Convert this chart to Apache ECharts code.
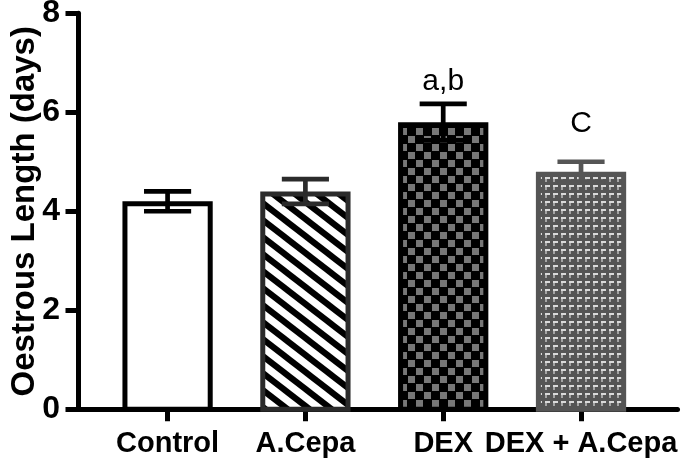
<!DOCTYPE html>
<html><head><meta charset="utf-8">
<script src="https://cdn.jsdelivr.net/npm/echarts@6/dist/echarts.min.js"></script>
<style>html,body{margin:0;padding:0;background:#fff}#c{width:685px;height:462px}</style>
</head><body><div id="c"></div>
<script>
// ---- data ----
const categories = ['Control', 'A.Cepa', 'DEX', 'DEX + A.Cepa'];
const means = [4.2, 4.4, 5.8, 4.8];
const errors = [0.2, 0.25, 0.37, 0.2];
const annotations = ['', '', 'a,b', 'C'];
const annotationY = [0, 0, 6.62, 5.76];
const yTickValues = [0, 2, 4, 6, 8];
const yTitle = 'Oestrous Length (days)';

const FONT = '"Liberation Sans", Arial, Helvetica, sans-serif';

// ---- patterns ----
function makeCanvas(w, h, draw) {
  const c = document.createElement('canvas');
  c.width = w; c.height = h;
  draw(c.getContext('2d'), w, h);
  return c;
}
const stripes = makeCanvas(22, 17, (g, w, h) => {
  g.fillStyle = '#fff'; g.fillRect(0, 0, w, h);
  g.strokeStyle = '#000'; g.lineWidth = 6.2;
  for (let k = -2; k <= 2; k++) {
    g.beginPath();
    g.moveTo(k * w - w, -h);
    g.lineTo(k * w + 2 * w, 2 * h);
    g.stroke();
  }
});
const checker = makeCanvas(16, 16, (g, w, h) => {
  g.fillStyle = '#000'; g.fillRect(0, 0, w, h);
  g.fillStyle = '#777';
  g.fillRect(0, 0, 7, 7);
  g.fillRect(8, 8, 7, 7);
});
const corners = makeCanvas(8, 8, (g, w, h) => {
  g.fillStyle = '#555'; g.fillRect(0, 0, w, h);
  g.fillStyle = '#a4a4a4'; g.fillRect(1, 2, 2, 4);
  g.fillStyle = '#dadada'; g.fillRect(1, 1, 5, 2);
});

const barStyles = [
  { fill: '#fff', stroke: '#000', err: '#000' },
  { fill: { image: stripes, repeat: 'repeat' }, stroke: '#2b2b2b', err: '#2b2b2b' },
  { fill: { image: checker, repeat: 'repeat' }, stroke: '#000', err: '#000' },
  { fill: { image: corners, repeat: 'repeat' }, stroke: '#555', err: '#555' }
];

function renderItem(params, api) {
  const i = api.value(0);
  const m = api.value(1);
  const e = api.value(2);
  const base = api.coord([i, 0]);
  const top = api.coord([i, m]);
  const hi = api.coord([i, m + e]);
  const lo = api.coord([i, m - e]);
  const unit = api.size([1, 0])[0];
  const barW = unit * 0.655;
  const capW = unit * 0.342;
  const bw = 5;
  const cx = base[0];
  const st = barStyles[i];
  const children = [
    { type: 'rect',
      shape: { x: cx - barW / 2 + bw / 2, y: top[1] + bw / 2, width: barW - bw, height: base[1] - top[1] - bw / 2 },
      style: { fill: st.fill, stroke: st.stroke, lineWidth: bw } },
    { type: 'line', shape: { x1: cx, y1: lo[1], x2: cx, y2: hi[1] }, style: { stroke: st.err, lineWidth: 4.7 } },
    { type: 'line', shape: { x1: cx - capW / 2, y1: hi[1], x2: cx + capW / 2, y2: hi[1] }, style: { stroke: st.err, lineWidth: 4.7 } },
    { type: 'line', shape: { x1: cx - capW / 2, y1: lo[1], x2: cx + capW / 2, y2: lo[1] }, style: { stroke: st.err, lineWidth: 4.7 } }
  ];
  if (annotations[i]) {
    const p = api.coord([i, annotationY[i]]);
    children.push({ type: 'text', x: cx, y: p[1],
      style: { text: annotations[i], fill: '#000', fontSize: 30, fontFamily: FONT, align: 'center', verticalAlign: 'middle' } });
  }
  return { type: 'group', children };
}

const chart = echarts.init(document.getElementById('c'), null, { renderer: 'canvas' });
chart.setOption({
  animation: false,
  backgroundColor: '#fff',
  grid: { left: 78, right: 7.5, top: 13.2, bottom: 52.7, containLabel: false, outerBoundsMode: 'none' },
  xAxis: {
    type: 'value', min: -0.65, max: 3.7,
    splitLine: { show: false },
    axisLine: { show: true, onZero: false, lineStyle: { color: '#000', width: 5 } },
    axisTick: { show: true, customValues: [0, 1, 2, 3], length: 12, lineStyle: { color: '#000', width: 5 } },
    axisLabel: { customValues: [0, 1, 2, 3], formatter: v => categories[Math.round(v)],
      color: '#000', fontWeight: 'bold', fontSize: 29, fontFamily: FONT, margin: 20 }
  },
  yAxis: {
    type: 'value', min: yTickValues[0], max: yTickValues[yTickValues.length - 1], interval: 2,
    name: yTitle, nameLocation: 'middle', nameGap: 37, nameMoveOverlap: false,
    nameTextStyle: { color: '#000', fontWeight: 'bold', fontSize: 33, fontFamily: FONT },
    splitLine: { show: false },
    axisLine: { show: true, onZero: false, lineStyle: { color: '#000', width: 5 } },
    axisTick: { show: true, length: 12.5, lineStyle: { color: '#000', width: 5 } },
    axisLabel: { color: '#000', fontWeight: 'bold', fontSize: 32, fontFamily: FONT, margin: 18 }
  },
  series: [{
    type: 'custom',
    renderItem,
    clip: false,
    data: categories.map((c, i) => [i, means[i], errors[i]])
  }]
});
</script>
</body></html>
